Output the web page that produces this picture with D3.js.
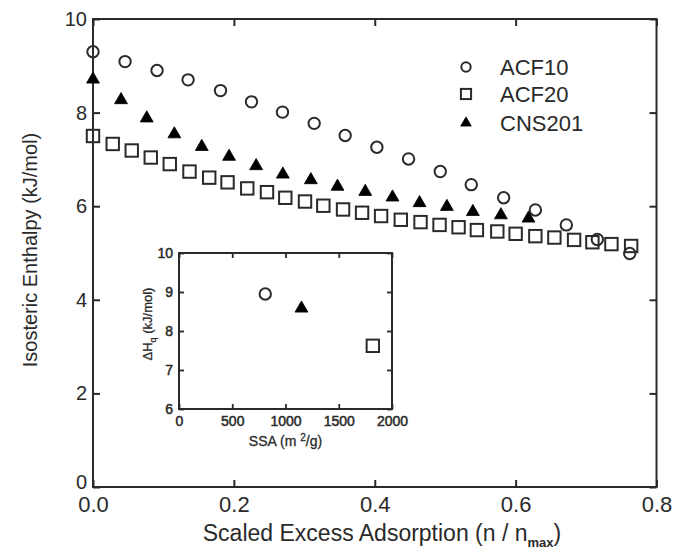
<!DOCTYPE html>
<html>
<head>
<meta charset="utf-8">
<script src="https://cdn.jsdelivr.net/npm/d3@7"></script>
<style>
  html, body { margin: 0; padding: 0; background: #fff; }
  svg { display: block; font-family: "Liberation Sans", Arial, sans-serif; }
</style>
</head>
<body>
<svg id="chart" width="677" height="549"></svg>
<script>
// ---------- data ----------
const acf10X = [0, 0.0455, 0.0909, 0.135, 0.181, 0.225, 0.269, 0.314, 0.358, 0.403, 0.448, 0.493, 0.537, 0.583, 0.628, 0.672, 0.716, 0.762];
const acf10Y = [9.30, 9.09, 8.90, 8.70, 8.47, 8.23, 8.01, 7.77, 7.51, 7.26, 7.01, 6.74, 6.46, 6.18, 5.92, 5.60, 5.29, 4.99];

const acf20X = [0, 0.028, 0.055, 0.082, 0.109, 0.137, 0.165, 0.191, 0.219, 0.247, 0.273, 0.301, 0.327, 0.355, 0.382, 0.409, 0.437, 0.465, 0.492, 0.519, 0.545, 0.574, 0.600, 0.628, 0.655, 0.683, 0.709, 0.736, 0.764];
const acf20Y = [7.50, 7.33, 7.19, 7.04, 6.90, 6.74, 6.61, 6.51, 6.38, 6.30, 6.18, 6.10, 6.01, 5.93, 5.86, 5.79, 5.71, 5.66, 5.60, 5.55, 5.49, 5.46, 5.41, 5.36, 5.33, 5.28, 5.23, 5.19, 5.15];

const cnsX = [0, 0.0398, 0.0763, 0.1155, 0.1544, 0.1932, 0.2316, 0.2695, 0.3093, 0.3471, 0.3865, 0.4252, 0.4636, 0.5024, 0.5393, 0.5791, 0.6183];
const cnsY = [8.71, 8.27, 7.88, 7.54, 7.27, 7.06, 6.86, 6.68, 6.56, 6.42, 6.31, 6.19, 6.07, 5.99, 5.88, 5.81, 5.74];

const seriesNames = ["ACF10", "ACF20", "CNS201"];
const seriesShapes = ["circle", "square", "triangle"];

// inset: SSA vs ΔH
const insetSSA = [810, 1820, 1150];
const insetDH  = [8.95, 7.62, 8.58];
const insetShapes = ["circle", "square", "triangle"];

const xTicks = [0, 0.2, 0.4, 0.6, 0.8];
const yTicks = [0, 2, 4, 6, 8, 10];
const insetXTicks = [0, 500, 1000, 1500, 2000];
const insetYTicks = [6, 7, 8, 9, 10];

// ---------- drawing ----------
const svg = d3.select("#chart");
const ink = "#2a2a2a";

const x = d3.scaleLinear().domain([0, 0.8]).range([93, 656.5]);
const y = d3.scaleLinear().domain([0, 10]).range([487, 19]);

function marker(sel, shape, big) {
  const s = big === false ? 0.82 : 1;
  if (shape === "circle") {
    sel.append("circle").attr("r", 5.7 * s)
      .attr("fill", "none").attr("stroke", ink).attr("stroke-width", 2);
  } else if (shape === "square") {
    sel.append("rect").attr("x", -6.2 * s).attr("y", -6.2 * s).attr("width", 12.4 * s).attr("height", 12.4 * s)
      .attr("fill", "none").attr("stroke", ink).attr("stroke-width", 2);
  } else {
    sel.append("path").attr("d", d3.symbol(d3.symbolTriangle, 72 * s * s)())
      .attr("fill", "#000").attr("stroke", "#000").attr("stroke-width", 0.8);
  }
}

// frame
svg.append("rect")
  .attr("x", x(0)).attr("y", y(10))
  .attr("width", x(0.8) - x(0)).attr("height", y(0) - y(10))
  .attr("fill", "none").attr("stroke", ink).attr("stroke-width", 2);

function styleAxis(g, size) {
  g.select(".domain").remove();
  g.selectAll(".tick line").attr("stroke", ink).attr("stroke-width", 2);
  g.selectAll(".tick text").attr("fill", ink).attr("font-size", size);
}

svg.append("g").attr("transform", `translate(0,${y(0)})`)
  .call(d3.axisBottom(x).tickValues(xTicks).tickFormat(d3.format(".1f")).tickSizeInner(-7).tickSizeOuter(0).tickPadding(9))
  .call(g => styleAxis(g, "22px"));
svg.append("g").attr("transform", `translate(0,${y(10)})`)
  .call(d3.axisTop(x).tickValues(xTicks).tickFormat("").tickSizeInner(-7).tickSizeOuter(0))
  .call(g => styleAxis(g, "22px"));
svg.append("g").attr("transform", `translate(${x(0)},0)`)
  .call(d3.axisLeft(y).tickValues(yTicks).tickFormat(d3.format("d")).tickSizeInner(-7).tickSizeOuter(0).tickPadding(6))
  .call(g => styleAxis(g, "20px"))
  .call(g => g.selectAll(".tick text").filter(d => d === 0).attr("dy", "0.05em"));
svg.append("g").attr("transform", `translate(${x(0.8)},0)`)
  .call(d3.axisRight(y).tickValues(yTicks).tickFormat("").tickSizeInner(-7).tickSizeOuter(0))
  .call(g => styleAxis(g, "20px"));

// axis titles
svg.append("text")
  .attr("transform", "translate(37,250) rotate(-90)")
  .attr("text-anchor", "middle").attr("font-size", "20px").attr("fill", ink)
  .text("Isosteric Enthalpy (kJ/mol)");

const xt = svg.append("text")
  .attr("x", 382).attr("y", 541).attr("text-anchor", "middle")
  .attr("font-size", "23px").attr("fill", ink);
xt.append("tspan").text("Scaled Excess Adsorption (n / n");
xt.append("tspan").attr("font-size", "13px").attr("font-weight", "bold").attr("dy", 6).text("max");
xt.append("tspan").attr("dy", -6).text(")");

// series
const series = [
  { xs: acf10X, ys: acf10Y },
  { xs: acf20X, ys: acf20Y },
  { xs: cnsX, ys: cnsY }
];
series.forEach((s, i) => {
  const pts = s.xs.map((v, j) => [v, s.ys[j]]);
  svg.append("g").selectAll("g").data(pts).join("g")
    .attr("transform", d => `translate(${x(d[0])},${y(d[1])})`)
    .each(function () { marker(d3.select(this), seriesShapes[i]); });
});

// legend
const legendRows = [67, 94, 123];
seriesNames.forEach((name, i) => {
  const g = svg.append("g").attr("transform", `translate(466,${legendRows[i]})`);
  marker(g, seriesShapes[i], false);
  g.append("text").attr("x", 34).attr("y", 0).attr("dy", "0.36em")
    .attr("font-size", "22px").attr("fill", ink).text(name);
});

// ---------- inset ----------
const ix = d3.scaleLinear().domain([0, 2000]).range([179, 392]);
const iy = d3.scaleLinear().domain([6, 10]).range([409, 253]);

svg.append("rect")
  .attr("x", ix(0)).attr("y", iy(10))
  .attr("width", ix(2000) - ix(0)).attr("height", iy(6) - iy(10))
  .attr("fill", "#fff").attr("stroke", ink).attr("stroke-width", 2);

function styleInset(g) {
  g.select(".domain").remove();
  g.selectAll(".tick line").attr("stroke", ink).attr("stroke-width", 1.8);
  g.selectAll(".tick text").attr("fill", ink).attr("font-size", "14px")
    .attr("stroke", ink).attr("stroke-width", 0.5);
}
svg.append("g").attr("transform", `translate(0,${iy(6)})`)
  .call(d3.axisBottom(ix).tickValues(insetXTicks).tickFormat(d3.format("d")).tickSizeInner(-5).tickSizeOuter(0).tickPadding(7))
  .call(styleInset);
svg.append("g").attr("transform", `translate(0,${iy(10)})`)
  .call(d3.axisTop(ix).tickValues(insetXTicks).tickFormat("").tickSizeInner(-5).tickSizeOuter(0))
  .call(styleInset);
svg.append("g").attr("transform", `translate(${ix(0)},0)`)
  .call(d3.axisLeft(iy).tickValues(insetYTicks).tickFormat(d3.format("d")).tickSizeInner(-5).tickSizeOuter(0).tickPadding(6))
  .call(styleInset);
svg.append("g").attr("transform", `translate(${ix(2000)},0)`)
  .call(d3.axisRight(iy).tickValues(insetYTicks).tickFormat("").tickSizeInner(-5).tickSizeOuter(0))
  .call(styleInset);

const ixt = svg.append("text")
  .attr("x", (ix(0) + ix(2000)) / 2).attr("y", 446).attr("text-anchor", "middle")
  .attr("font-size", "14px").attr("fill", ink).attr("stroke", ink).attr("stroke-width", 0.3);
ixt.append("tspan").text("SSA (m ");
ixt.append("tspan").attr("font-size", "10px").attr("dy", -5).text("2");
ixt.append("tspan").attr("dy", 5).text("/g)");

const iyt = svg.append("text")
  .attr("transform", "translate(152,324) rotate(-90)")
  .attr("text-anchor", "middle").attr("font-size", "13px").attr("fill", ink)
  .attr("stroke", ink).attr("stroke-width", 0.3);
iyt.append("tspan").text("ΔH");
iyt.append("tspan").attr("font-size", "9px").attr("dy", 4).text("q");
iyt.append("tspan").attr("dy", -4).text(" (kJ/mol)");

insetSSA.forEach((v, i) => {
  const g = svg.append("g").attr("transform", `translate(${ix(v)},${iy(insetDH[i])})`);
  marker(g, insetShapes[i]);
});
</script>
</body>
</html>
